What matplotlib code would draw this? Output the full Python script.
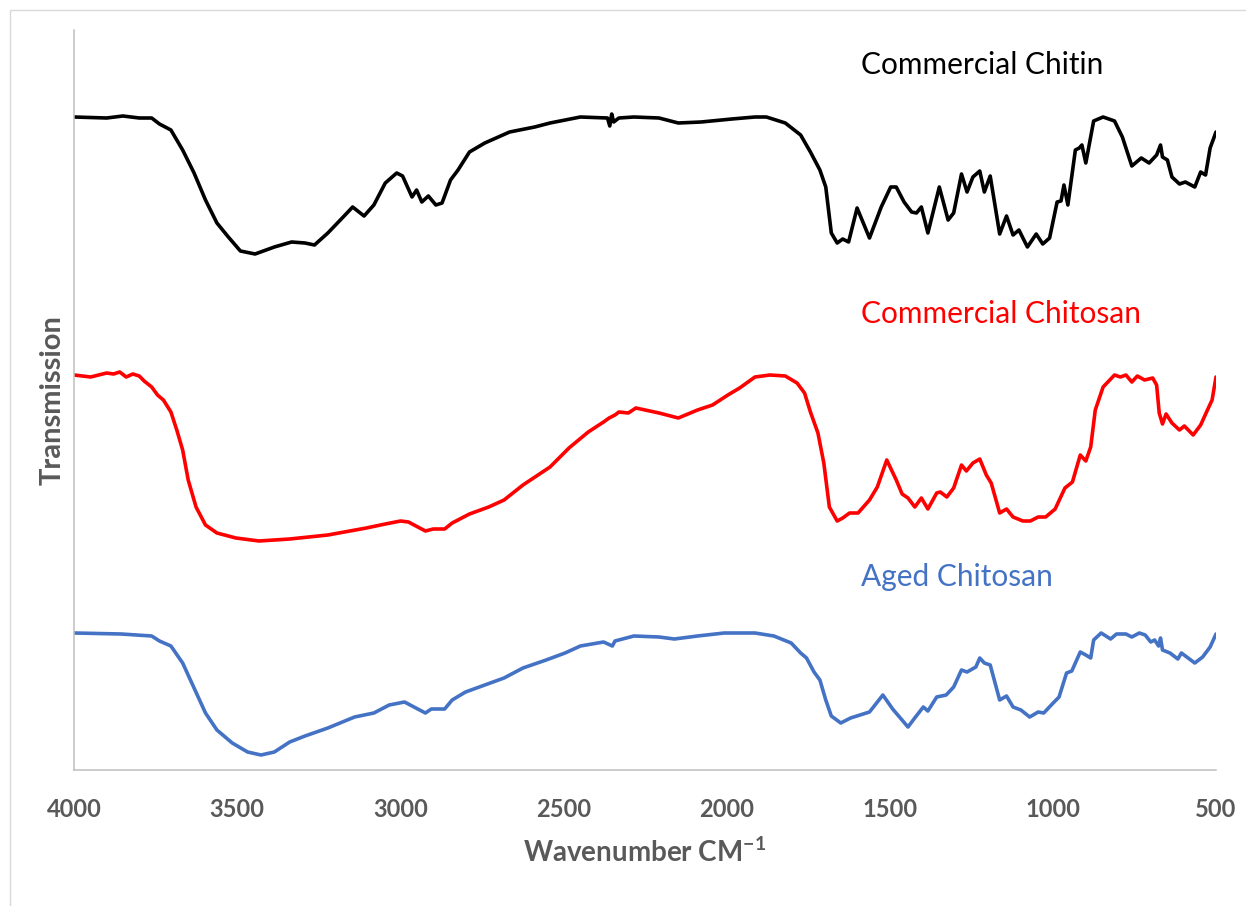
import matplotlib

matplotlib.use("Agg")
import matplotlib.pyplot as plt
from matplotlib.patches import Rectangle

plt.rcParams["font.family"] = ["Lato", "DejaVu Sans"]
plt.rcParams["mathtext.fontset"] = "custom"
plt.rcParams["mathtext.rm"] = "Lato"
plt.rcParams["mathtext.bf"] = "Lato:bold"

# FTIR spectra (transmission in arbitrary units, offset stacked)
chitin_wn = [4000, 3900, 3850, 3800, 3762, 3738, 3703, 3667, 3632, 3597, 3562, 3527,
             3490, 3445, 3386, 3333, 3292, 3263, 3222, 3175, 3146, 3111, 3081, 3046,
             3011, 2993, 2964, 2950, 2934, 2914, 2891, 2872, 2846, 2823, 2788, 2741,
             2665, 2588, 2541, 2448, 2365, 2358, 2352, 2346, 2330, 2284, 2207, 2148,
             2078, 1984, 1913, 1878, 1820, 1773, 1743, 1714, 1696, 1679, 1661, 1644,
             1626, 1600, 1562, 1526, 1497, 1480, 1456, 1433, 1418, 1403, 1383, 1348,
             1321, 1304, 1280, 1263, 1245, 1224, 1210, 1192, 1163, 1142, 1122, 1104,
             1078, 1051, 1031, 1010, 987, 975, 966, 954, 931, 919, 911, 899, 875, 846,
             811, 787, 758, 729, 705, 682, 670, 664, 649, 635, 612, 594, 565, 547,
             532, 518, 500]
chitin_t = [653, 652, 654, 652, 652, 646, 640, 620, 597, 570, 547, 533,
            519, 516, 523, 528, 527, 525, 537, 553, 563, 554, 565, 587,
            597, 594, 573, 580, 568, 574, 565, 567, 590, 600, 618, 627,
            638, 643, 647, 653, 652, 644, 656, 648, 652, 653, 652, 647,
            648, 651, 653, 653, 647, 635, 618, 600, 583, 537, 527, 531,
            528, 562, 532, 563, 583, 583, 568, 558, 557, 563, 537, 583,
            550, 557, 596, 578, 593, 599, 578, 594, 536, 554, 535, 540,
            523, 536, 526, 532, 568, 569, 585, 565, 620, 622, 625, 607, 649, 653,
            649, 633, 604, 612, 607, 615, 625, 613, 610, 593, 586, 588, 583, 598,
            595, 622, 638]

chitosan_wn = [4000, 3949, 3900, 3879, 3860, 3840, 3820, 3800, 3785, 3762, 3744, 3726,
               3703, 3685, 3667, 3650, 3626, 3597, 3562, 3504, 3433, 3339, 3222, 3104,
               3046, 2999, 2975, 2952, 2923, 2899, 2864, 2841, 2788, 2729, 2682, 2624,
               2541, 2483, 2424, 2377, 2360, 2342, 2330, 2301, 2278, 2207, 2148, 2089,
               2043, 1996, 1960, 1913, 1867, 1820, 1784, 1761, 1743, 1720, 1702, 1685,
               1661, 1644, 1623, 1597, 1562, 1538, 1509, 1480, 1462, 1444, 1423, 1403,
               1383, 1356, 1345, 1325, 1304, 1280, 1265, 1245, 1224, 1204, 1189, 1163,
               1142, 1122, 1092, 1069, 1045, 1022, 993, 963, 940, 916, 899, 884, 870,
               846, 811, 793, 776, 758, 741, 719, 694, 682, 674, 664, 653, 635, 612,
               597, 570, 547, 529, 512, 500]
chitosan_t = [395, 393, 397, 396, 398, 393, 396, 394, 389, 383, 375, 370,
              358, 340, 320, 290, 263, 245, 237, 232, 229, 231, 235, 242,
              246, 249, 248, 244, 239, 241, 241, 247, 256, 263, 270, 285,
              303, 322, 338, 348, 352, 355, 358, 357, 362, 357, 352, 360,
              365, 375, 382, 393, 395, 394, 387, 377, 358, 337, 307, 263,
              249, 252, 257, 257, 270, 283, 310, 290, 276, 272, 263, 272,
              261, 277, 278, 273, 282, 305, 299, 307, 311, 295, 287, 257,
              261, 253, 249, 249, 253, 253, 261, 282, 288, 315, 309, 323, 360,
              383, 395, 393, 395, 388, 394, 390, 392, 385, 357, 346, 356, 347, 340,
              344, 335, 345, 358, 370, 393]

aged_wn = [4000, 3855, 3762, 3738, 3703, 3667, 3632, 3597, 3562, 3515, 3468, 3427,
           3386, 3339, 3292, 3222, 3140, 3081, 3034, 2987, 2958, 2923, 2905, 2864,
           2841, 2800, 2741, 2682, 2624, 2553, 2495, 2448, 2377, 2350, 2342, 2284,
           2207, 2160, 2089, 2007, 1913, 1855, 1802, 1773, 1755, 1732, 1714, 1696,
           1679, 1650, 1620, 1562, 1521, 1491, 1444, 1421, 1397, 1383, 1356, 1327,
           1304, 1280, 1263, 1236, 1224, 1210, 1192, 1163, 1142, 1122, 1098, 1071,
           1045, 1028, 999, 981, 958, 942, 916, 899, 884, 875, 852, 823, 805, 776,
           758, 735, 717, 700, 688, 676, 670, 664, 641, 617, 606, 565, 541, 518, 500]
aged_t = [137, 136, 134, 129, 124, 107, 82, 57, 40, 27, 18, 15,
          18, 28, 34, 42, 53, 57, 65, 68, 63, 57, 61, 61,
          70, 78, 85, 92, 102, 110, 117, 124, 128, 124, 129, 134,
          133, 131, 134, 137, 137, 134, 127, 117, 112, 98, 90, 70,
          54, 47, 52, 58, 75, 61, 43, 53, 63, 59, 73, 75,
          83, 100, 98, 103, 112, 107, 105, 70, 74, 63, 60, 53,
          58, 57, 67, 73, 97, 99, 118, 115, 112, 130, 137, 131, 136, 136,
          133, 137, 135, 128, 130, 124, 132, 120, 117, 111, 117, 107, 113, 123, 136]

names = ["Commercial Chitin", "Commercial Chitosan", "Aged Chitosan"]
colors = ["#000000", "#FF0000", "#4472C4"]
label_y = [0.953, 0.616, 0.261]
ticks = [4000, 3500, 3000, 2500, 2000, 1500, 1000, 500]

fig = plt.figure(figsize=(12.46, 9.06), dpi=100)
fig.patches.append(Rectangle((10 / 1246, -0.1), 1.2, 1.1 - 10 / 906,
                             transform=fig.transFigure, fill=False,
                             edgecolor="#d9d9d9", lw=1.0))
ax = fig.add_axes([74 / 1246, 136 / 906, 1142 / 1246, 740 / 906])

series = [(chitin_wn, chitin_t), (chitosan_wn, chitosan_t), (aged_wn, aged_t)]
for (wn, t), c in zip(series, colors):
    ax.plot(wn, t, color=c, lw=2.6, solid_joinstyle="round",
            solid_capstyle="round")

for name, c, y in zip(names, colors, label_y):
    ax.text(0.689, y, name, color=c, fontsize=21.5, transform=ax.transAxes,
            ha="left", va="center")

ax.set_xlim(4000, 500)
ax.set_ylim(0, 740)
ax.set_xticks(ticks)
ax.set_xticklabels([str(t) for t in ticks], fontsize=17, fontweight="bold",
                   color="#595959")
ax.tick_params(axis="x", length=0, pad=20)
ax.set_yticks([])
for s in ["top", "right"]:
    ax.spines[s].set_visible(False)
for s in ["left", "bottom"]:
    ax.spines[s].set_color("#bfbfbf")
    ax.spines[s].set_linewidth(1.1)

ax.set_xlabel(r"Wavenumber CM$^{\mathbf{-1}}$", fontsize=20, fontweight="bold",
              color="#595959", labelpad=12)
ax.set_ylabel("Transmission", fontsize=21, fontweight="bold", color="#595959",
              labelpad=6)

fig.savefig("out.png", dpi=100)
print("wrote out.png")
